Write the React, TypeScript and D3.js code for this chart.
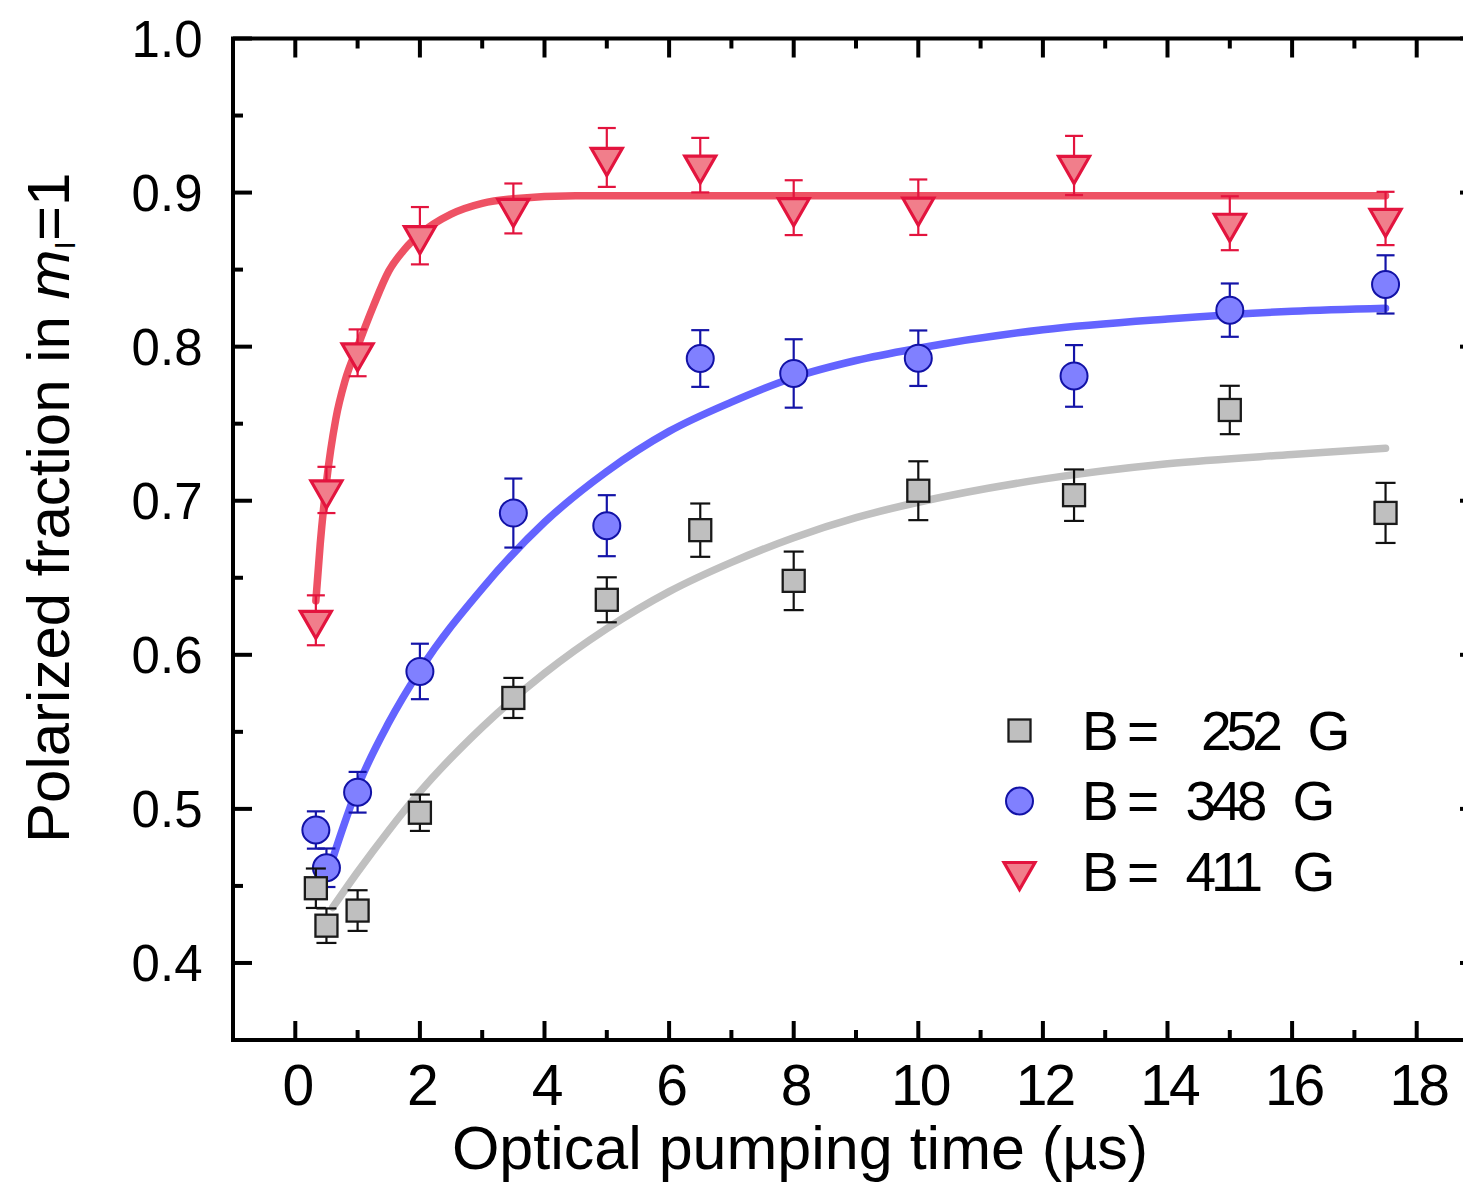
import React from 'react';
import * as d3 from 'd3';

const W = 1463;
const H = 1185;
const FONT = "'Liberation Sans', Arial, Helvetica, sans-serif";

// ---------- data ----------
const timeUs = [0.33, 0.5, 1, 2, 3.5, 5, 6.5, 8, 10, 12.5, 15, 17.5];

const frac252 = [0.4485, 0.4242, 0.434, 0.4975, 0.572, 0.6357, 0.6809, 0.648, 0.7065, 0.7036, 0.7589, 0.6921];
const err252 = [0.0128, 0.0112, 0.0132, 0.0118, 0.013, 0.0146, 0.0173, 0.019, 0.0191, 0.0167, 0.0157, 0.0195];

const frac348 = [0.4863, 0.4618, 0.5108, 0.5892, 0.692, 0.6838, 0.7923, 0.7826, 0.7925, 0.781, 0.8237, 0.8404];
const err348 = [0.0121, 0.0125, 0.0132, 0.018, 0.0224, 0.0198, 0.0184, 0.0222, 0.018, 0.02, 0.0173, 0.0189];

const frac411 = [0.6224, 0.707, 0.796, 0.872, 0.8897, 0.9228, 0.9178, 0.8902, 0.8905, 0.9176, 0.8801, 0.8832];
const err411 = [0.0162, 0.015, 0.0152, 0.0186, 0.0162, 0.0191, 0.0177, 0.0178, 0.018, 0.0192, 0.0175, 0.0173];

// fitted curves
const fitX252 = [0.6, 1, 1.5, 2, 3, 4, 5, 6, 7, 8, 9, 10, 12, 14, 16, 17.5];
const fitY252 = [0.436, 0.459, 0.486, 0.511, 0.553, 0.588, 0.617, 0.641, 0.66, 0.676, 0.689, 0.699, 0.714, 0.724, 0.73, 0.734];

const fitX348 = [0.5, 0.75, 1, 1.5, 2, 3, 4, 5, 6, 7, 8, 9, 10, 12, 14, 16, 17.5];
const fitY348 = [0.455, 0.486, 0.514, 0.556, 0.59, 0.643, 0.686, 0.719, 0.745, 0.764, 0.78, 0.791, 0.799, 0.811, 0.818, 0.823, 0.825];

const fitX411 = [0.33, 0.4, 0.5, 0.65, 0.8, 1.0, 1.25, 1.5, 1.75, 2.0, 2.5, 3.0, 3.5, 4.5, 6, 9, 13, 17.5];
const fitY411 = [0.635, 0.672, 0.712, 0.753, 0.778, 0.8, 0.826, 0.849, 0.863, 0.873, 0.886, 0.893, 0.896, 0.898, 0.898, 0.898, 0.898, 0.898];

const legendFields = ['252', '348', '411'];

const X_DOMAIN = [-1, 19];
const Y_DOMAIN = [0.35, 1.0];
const xMajorTicks = [0, 2, 4, 6, 8, 10, 12, 14, 16, 18];
const xMajorLabels = ['0', '2', '4', '6', '8', '10', '12', '14', '16', '18'];
const xMinorTicks = [1, 3, 5, 7, 9, 11, 13, 15, 17];
const yMajorTicks = [0.4, 0.5, 0.6, 0.7, 0.8, 0.9, 1.0];
const yMajorLabels = ['0.4', '0.5', '0.6', '0.7', '0.8', '0.9', '1.0'];
const yMinorTicks = [0.45, 0.55, 0.65, 0.75, 0.85, 0.95];

// ---------- styles ----------
const STY = {
  '252': { line: '#c0c0c0', fill: '#bfbfbf', stroke: '#1a1a1a', err: '#111111', cap: 20, shape: 'square' },
  '348': { line: '#6464ff', fill: '#8080ff', stroke: '#1212a6', err: '#1414a8', cap: 18, shape: 'circle' },
  '411': { line: '#ee5264', fill: '#f17e8b', stroke: '#e3143e', err: '#e3143e', cap: 18, shape: 'triangle' },
};

function Marker({ shape, cx, cy, s }: { shape: string; cx: number; cy: number; s: any }) {
  if (shape === 'square') {
    return <rect x={cx - 11} y={cy - 11} width={22} height={22} fill={s.fill} stroke={s.stroke} strokeWidth={2.3} />;
  }
  if (shape === 'circle') {
    return <circle cx={cx} cy={cy} r={13.5} fill={s.fill} stroke={s.stroke} strokeWidth={2} />;
  }
  return (
    <path
      d={`M${cx - 15.5},${cy - 9}L${cx + 15.5},${cy - 9}L${cx},${cy + 18}Z`}
      fill={s.fill}
      stroke={s.stroke}
      strokeWidth={3.2}
      strokeLinejoin="miter"
    />
  );
}

export default function App() {
  const left = 233;
  const right = 1479;
  const top = 38.5;
  const bottom = 1040;
  const x = d3.scaleLinear().domain(X_DOMAIN).range([left, right]);
  const y = d3.scaleLinear().domain(Y_DOMAIN).range([bottom, top]);

  const line = d3
    .line<[number, number]>()
    .x((d) => x(d[0]))
    .y((d) => y(d[1]))
    .curve(d3.curveMonotoneX);

  const series = [
    { key: '252', ys: frac252, errs: err252, fx: fitX252, fy: fitY252 },
    { key: '348', ys: frac348, errs: err348, fx: fitX348, fy: fitY348 },
    { key: '411', ys: frac411, errs: err411, fx: fitX411, fy: fitY411 },
  ];
  const pointOrder = [series[1], series[0], series[2]];

  const MAJ = 19;
  const MIN = 10;
  const TW = 4;

  const legendX = 1019.5;
  const legendY0 = 730.5;
  const legendStep = 70.5;
  const legendNumX = [1201, 1185.5, 1185.5];
  const legendGX = [1307.5, 1292.5, 1292.5];

  return (
    <svg
      width={W}
      height={H}
      viewBox={`0 0 ${W} ${H}`}
      style={{ position: 'absolute', left: 0, top: 0, display: 'block', background: '#fff' }}
      fontFamily={FONT}
    >
      <rect x={0} y={0} width={W} height={H} fill="#fff" />

      {/* fit curves */}
      {series.map((s) => (
        <path
          key={'fit' + s.key}
          d={line(s.fx.map((v, i) => [v, s.fy[i]] as [number, number])) || ''}
          fill="none"
          stroke={STY[s.key].line}
          strokeWidth={7.5}
          strokeLinecap="round"
          strokeLinejoin="round"
        />
      ))}

      {/* data points with error bars */}
      {pointOrder.map((s) => {
        const st = STY[s.key];
        return (
          <g key={'pts' + s.key}>
            {timeUs.map((t, i) => {
              const cx = x(t);
              const y1 = y(s.ys[i] + s.errs[i]);
              const y2 = y(s.ys[i] - s.errs[i]);
              const hw = st.cap / 2;
              return (
                <g key={i}>
                  <line x1={cx} x2={cx} y1={y1} y2={y2} stroke={st.err} strokeWidth={2.2} />
                  <line x1={cx - hw} x2={cx + hw} y1={y1} y2={y1} stroke={st.err} strokeWidth={2.2} />
                  <line x1={cx - hw} x2={cx + hw} y1={y2} y2={y2} stroke={st.err} strokeWidth={2.2} />
                  <Marker shape={st.shape} cx={cx} cy={y(s.ys[i])} s={st} />
                </g>
              );
            })}
          </g>
        );
      })}

      {/* frame */}
      <rect x={left} y={top} width={right - left} height={bottom - top} fill="none" stroke="#000" strokeWidth={4} />

      {/* x ticks (bottom & top, inward) */}
      {xMajorTicks.map((t) => (
        <g key={'xM' + t}>
          <line x1={x(t)} x2={x(t)} y1={bottom} y2={bottom - MAJ} stroke="#000" strokeWidth={TW} />
          <line x1={x(t)} x2={x(t)} y1={top} y2={top + MAJ} stroke="#000" strokeWidth={TW} />
        </g>
      ))}
      {xMinorTicks.map((t) => (
        <g key={'xm' + t}>
          <line x1={x(t)} x2={x(t)} y1={bottom} y2={bottom - MIN} stroke="#000" strokeWidth={TW} />
          <line x1={x(t)} x2={x(t)} y1={top} y2={top + MIN} stroke="#000" strokeWidth={TW} />
        </g>
      ))}
      {/* y ticks (left & right, inward) */}
      {yMajorTicks.map((t) => (
        <g key={'yM' + t}>
          <line x1={left} x2={left + MAJ} y1={y(t)} y2={y(t)} stroke="#000" strokeWidth={TW} />
          <line x1={right} x2={right - MAJ} y1={y(t)} y2={y(t)} stroke="#000" strokeWidth={TW} />
        </g>
      ))}
      {yMinorTicks.map((t) => (
        <g key={'ym' + t}>
          <line x1={left} x2={left + MIN} y1={y(t)} y2={y(t)} stroke="#000" strokeWidth={TW} />
          <line x1={right} x2={right - MIN} y1={y(t)} y2={y(t)} stroke="#000" strokeWidth={TW} />
        </g>
      ))}

      {/* tick labels */}
      {xMajorTicks.map((t, i) => (
        <text
          key={'xl' + t}
          x={x(t) + 1.5}
          y={1105}
          fontSize={57}
          textAnchor="middle"
          style={{ letterSpacing: '-3px' }}
          fill="#000"
        >
          {xMajorLabels[i]}
        </text>
      ))}
      {yMajorTicks.map((t, i) => (
        <text key={'yl' + t} x={202.5} y={y(t) + 18} fontSize={51} textAnchor="end" fill="#000">
          {yMajorLabels[i]}
        </text>
      ))}

      {/* axis titles */}
      <text x={800} y={1169} fontSize={61} textAnchor="middle" fill="#000">
        Optical pumping time (µs)
      </text>
      <text transform="translate(69, 843) rotate(-90)" fontSize={60} fill="#000">
        Polarized fraction in <tspan fontStyle="italic">m</tspan>
        <tspan fontSize={30} dy={6}>I</tspan>
        <tspan dy={-6}>=1</tspan>
      </text>

      {/* legend */}
      {series.map((s, i) => {
        const st = STY[s.key];
        const cy = legendY0 + i * legendStep;
        return (
          <g key={'lg' + s.key}>
            <Marker shape={st.shape} cx={legendX} cy={cy} s={st} />
            <text y={cy + 19} fontSize={55} fill="#000">
              <tspan x={1082}>B</tspan>
              <tspan x={1127}>=</tspan>
              <tspan x={legendNumX[i]} style={{ letterSpacing: '-5px' }}>
                {legendFields[i]}
              </tspan>
              <tspan x={legendGX[i]}>G</tspan>
            </text>
          </g>
        );
      })}
    </svg>
  );
}
